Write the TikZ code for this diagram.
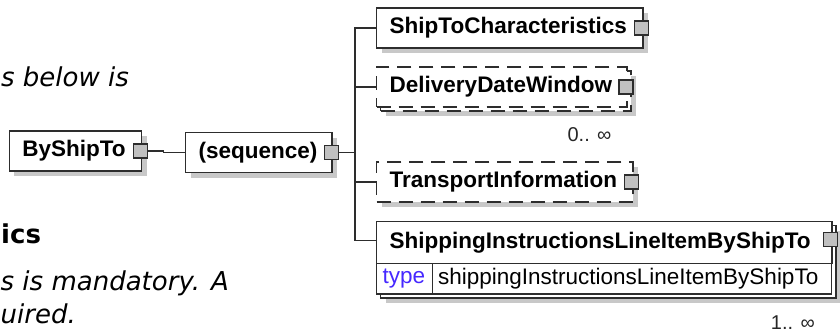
\documentclass[tikz,border=0pt]{standalone}
\usepackage{fontspec}
\setmainfont{Liberation Sans}
\newfontfamily\prosefont{DejaVu Sans}
\usepackage{tikz}

\definecolor{shade}{RGB}{200,200,200}
\definecolor{btnfill}{RGB}{192,192,192}
\definecolor{edge}{RGB}{45,45,45}
\definecolor{typeblue}{RGB}{70,40,255}

\tikzset{
  elem/.style={draw=edge, line width=1.2pt, fill=white, outer sep=0pt,
    inner xsep=13pt, inner ysep=0pt, minimum height=40pt, align=left,
    font=\fontsize{22.5}{27}\selectfont\bfseries},
  shad/.style={preaction={fill=shade, transform canvas={shift={(5pt,-5pt)}}}},
  opt/.style={dash pattern=on 14pt off 8pt},
  btn/.style={draw=edge, line width=1.2pt, fill=btnfill, minimum size=14pt,
    inner sep=0pt, outer sep=0pt},
  wire/.style={draw=edge, line width=1.2pt},
  mult/.style={anchor=base east, inner sep=0pt, text=black!85,
    font=\fontsize{20}{24}\selectfont},
  prose/.style={anchor=base west, inner sep=0pt,
    font=\prosefont\fontsize{26}{31}\selectfont\itshape}
}

\begin{document}
\begin{tikzpicture}[x=1pt, y=-1pt]
        \useasboundingbox (0,0) rectangle (840,332);
        \node [prose] (p1) at (1,86) {s below is};
        \node [prose, font=\prosefont\fontsize{26}{31}\selectfont\bfseries] (p2) at (1,243) {ics};
        \node [prose] (p3) at (0.5,290) {s is mandatory. A};
        \node [prose] (p4) at (0.5,323) {uired.};
        \node [elem, shad, anchor=west, text width=106.4pt] (bst) at (9.3,151) {ByShipTo};
        \node [elem, shad, anchor=west, text width=120.3pt] (seq) at (185.7,152.5) {(sequence)};
        \node [elem, shad, anchor=west, text width=240.3pt] (stc) at (376.7,28) {ShipToCharacteristics};
        \node [elem, shad, opt, anchor=west, minimum width=250.3pt] (ddw2) at (380.7,91) {};
        \node [elem, opt, anchor=west, text width=224.3pt] (ddw) at (376.7,87) {DeliveryDateWindow};
        \node [elem, shad, opt, anchor=west, text width=230.3pt] (ti) at (376.7,182) {TransportInformation};
        \node [elem, shad, anchor=north west, minimum width=455.3pt, minimum height=72.5pt] (sil2) at (380.7,225.5) {};
        \node [elem, anchor=north west, minimum height=42pt, text width=429.3pt] (sil) at (376.7,221.5) {ShippingInstructionsLineItemByShipTo};
        \node [elem, anchor=north west, minimum height=30.5pt, inner xsep=6pt, text width=43.4pt,
          font=\fontsize{22.5}{27}\selectfont, text=typeblue] (silt) at (sil.south west) {type};
        \node [elem, anchor=north west, minimum height=30.5pt, inner xsep=6pt, text width=387.3pt,
          font=\fontsize{22.5}{27}\selectfont] (silv) at (silt.north east) {shippingInstructionsLineItemByShipTo};
        \node [mult] (ddwm) at (611.7,141) {0.. ∞};
        \node [mult] (silm) at (815,329) {1.. ∞};
        \coordinate (bus) at (355,152.5);
        \draw [wire] (bst.east) -- ++(22,0) |- (seq.west);
        \draw [wire] (seq.east) to (bus);
        \draw [wire] (bus) |- (stc.west);
        \draw [wire] (bus) |- (ddw.west);
        \draw [wire] (bus) |- (ti.west);
        \draw [wire] (bus) |- ([yshift=2pt]sil.west);
        \node [btn] (bstx) at ([xshift=-1pt]bst.east) {};
        \node [btn] (seqx) at ([xshift=-0.5pt]seq.east) {};
        \node [btn] (stcx) at ([xshift=-1.5pt]stc.east) {};
        \node [btn] (ddwx) at ([xshift=-1pt]ddw.east) {};
        \node [btn] (tix) at ([xshift=-1.5pt]ti.east) {};
        \node [btn] (silx) at ([xshift=-1.5pt, yshift=3pt]sil.east) {};
      \end{tikzpicture}
\end{document}
